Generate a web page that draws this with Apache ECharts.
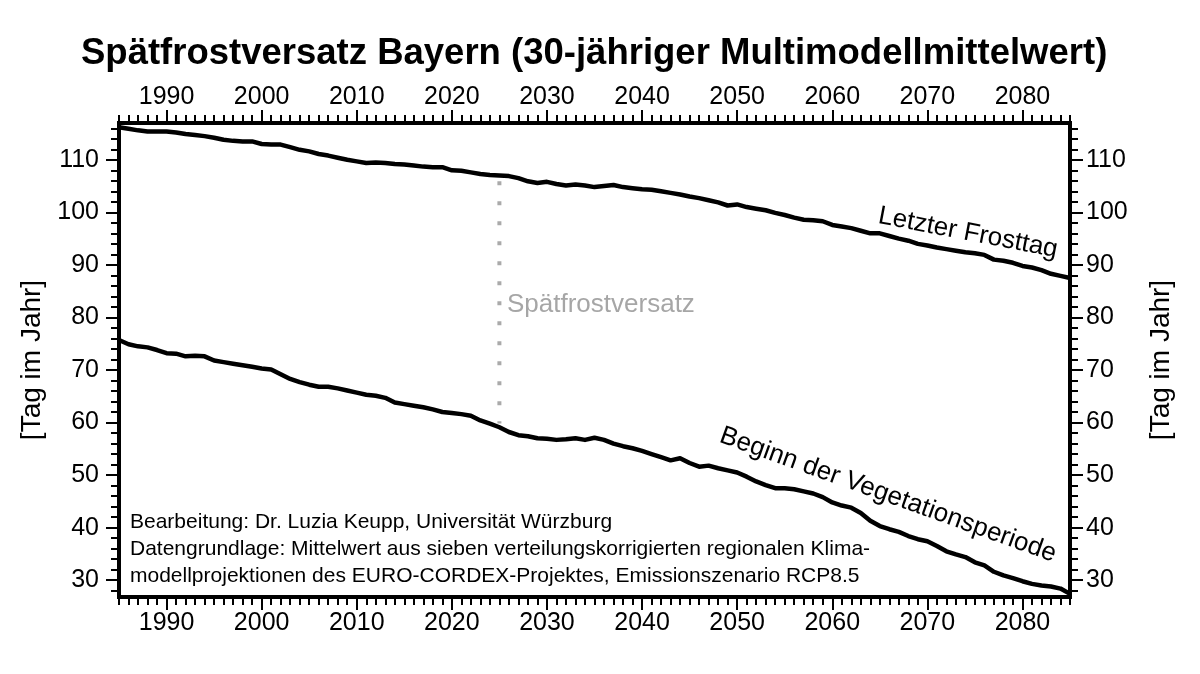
<!DOCTYPE html>
<html>
<head>
<meta charset="utf-8">
<script src="https://cdn.jsdelivr.net/npm/echarts@6/dist/echarts.min.js"></script>
<style>html,body{margin:0;padding:0;background:#fff}#c{width:1200px;height:674px}</style>
</head>
<body>
<div id="c"></div>
<script>
// ---- data ----
const years = [1985,1986,1987,1988,1989,1990,1991,1992,1993,1994,1995,1996,1997,1998,1999,
2000,2001,2002,2003,2004,2005,2006,2007,2008,2009,2010,2011,2012,2013,2014,2015,2016,2017,2018,2019,
2020,2021,2022,2023,2024,2025,2026,2027,2028,2029,2030,2031,2032,2033,2034,2035,2036,2037,2038,2039,
2040,2041,2042,2043,2044,2045,2046,2047,2048,2049,2050,2051,2052,2053,2054,2055,2056,2057,2058,2059,
2060,2061,2062,2063,2064,2065,2066,2067,2068,2069,2070,2071,2072,2073,2074,2075,2076,2077,2078,2079,
2080,2081,2082,2083,2084,2085];
const letzterFrosttag = [116.2,115.9,115.6,115.4,115.4,115.4,115.2,114.9,114.7,114.5,114.2,113.8,113.6,113.5,113.5,
113.0,112.9,112.9,112.4,111.9,111.6,111.1,110.8,110.4,110.0,109.7,109.4,109.5,109.4,109.2,109.1,108.9,108.7,108.6,108.6,
108.0,107.9,107.6,107.3,107.1,107.0,106.9,106.5,105.9,105.6,105.8,105.4,105.1,105.3,105.1,104.8,105.0,105.2,104.8,104.6,
104.4,104.3,104.0,103.7,103.4,103.0,102.7,102.3,101.9,101.3,101.5,101.0,100.7,100.4,99.9,99.5,99.0,98.6,98.5,98.3,
97.6,97.3,97.0,96.5,96.0,96.0,95.5,95.0,94.6,94.0,93.7,93.3,93.0,92.7,92.4,92.2,91.9,91.0,90.8,90.4,
89.8,89.5,89.0,88.3,87.9,87.5];
const beginnVegetation = [75.7,74.9,74.5,74.3,73.8,73.2,73.1,72.6,72.7,72.6,71.8,71.5,71.2,70.9,70.6,
70.3,70.1,69.2,68.3,67.7,67.2,66.8,66.8,66.5,66.1,65.7,65.3,65.1,64.7,63.8,63.5,63.2,62.9,62.5,62.0,
61.8,61.6,61.3,60.4,59.8,59.1,58.2,57.6,57.4,57.0,56.9,56.7,56.8,57.0,56.7,57.1,56.7,56.0,55.5,55.1,
54.6,54.0,53.4,52.8,53.2,52.3,51.6,51.8,51.3,50.9,50.5,49.7,48.8,48.1,47.5,47.5,47.3,46.9,46.5,45.8,
44.8,44.2,43.8,42.8,41.3,40.3,39.7,39.2,38.4,37.8,37.4,36.5,35.5,34.9,34.4,33.4,32.8,31.6,30.9,30.4,
29.8,29.3,29.0,28.8,28.4,27.4];
const versatzYear = 2025;
const versatzRange = [105.9, 59.8];
const xTickLabels = [1990,2000,2010,2020,2030,2040,2050,2060,2070,2080];
const yTickLabels = [30,40,50,60,70,80,90,100,110];
const xMin = 1985, xMax = 2085, yMin = 26.8, yMax = 117;

const title = 'Spätfrostversatz Bayern (30-jähriger Multimodellmittelwert)';
const yName = '[Tag im Jahr]';
const creditLines = [
  'Bearbeitung: Dr. Luzia Keupp, Universität Würzburg',
  'Datengrundlage: Mittelwert aus sieben verteilungskorrigierten regionalen Klima-',
  'modellprojektionen des EURO-CORDEX-Projektes, Emissionszenario RCP8.5'
];

// ---- build ----
const FONT = "'Liberation Sans', Arial, Helvetica, sans-serif";
const xMinor = []; for (let v = xMin; v <= xMax; v += 1) xMinor.push(v);
const yMinor = []; for (let v = 28; v <= 116; v += 2) yMinor.push(v);

const frameLine = {show: true, lineStyle: {color: '#000', width: 4, cap: 'square'}};
function xAx(pos, major) {
  return {
    type: 'value', position: pos, min: xMin, max: xMax,
    axisLine: major ? frameLine : {show: false},
    splitLine: {show: false},
    axisTick: {show: true, inside: false, length: major ? 13 : 8,
      customValues: major ? xTickLabels : xMinor,
      lineStyle: {color: '#000', width: 2}},
    axisLabel: {show: major, customValues: xTickLabels, formatter: v => String(v),
      color: '#000', fontSize: 25, fontFamily: FONT, margin: pos === 'top' ? 13 : 14}
  };
}
function yAx(pos, major) {
  return {
    type: 'value', position: pos, min: yMin, max: yMax,
    name: major ? yName : '', nameLocation: 'middle', nameGap: pos === 'left' ? 69 : 77,
    nameRotate: 90,
    nameTextStyle: {color: '#000', fontSize: 28, fontFamily: FONT},
    axisLine: major ? frameLine : {show: false},
    splitLine: {show: false},
    axisTick: {show: true, inside: false, length: major ? 13 : 8,
      customValues: major ? yTickLabels : yMinor,
      lineStyle: {color: '#000', width: 2}},
    axisLabel: {show: major, customValues: yTickLabels, formatter: v => String(v),
      color: '#000', fontSize: 25, fontFamily: FONT, margin: pos === 'left' ? 20 : 16}
  };
}

const chart = echarts.init(document.getElementById('c'), null, {renderer: 'canvas'});
const option = {
  backgroundColor: '#fff',
  animation: false,
  title: {text: title, left: 76, top: 30,
    textStyle: {fontSize: 36.5, fontWeight: 'bold', color: '#000', fontFamily: FONT}},
  grid: {left: 119, right: 130, top: 123, bottom: 77, outerBoundsMode: 'none'},
  xAxis: [xAx('bottom', true), xAx('top', true), xAx('bottom', false), xAx('top', false)],
  yAxis: [yAx('left', true), yAx('right', true), yAx('left', false), yAx('right', false)],
  series: [
    {type: 'line', name: 'Spätfrostversatz', xAxisIndex: 0, yAxisIndex: 0, symbol: 'none', z: 1,
      data: versatzRange.map(v => [versatzYear, v]),
      lineStyle: {color: '#aaaaaa', width: 4, type: [4, 16], cap: 'butt'}},
    {type: 'line', name: 'Letzter Frosttag', xAxisIndex: 0, yAxisIndex: 0, symbol: 'none', z: 3,
      data: years.map((y, i) => [y, letzterFrosttag[i]]),
      lineStyle: {color: '#000', width: 4.5, join: 'round'}},
    {type: 'line', name: 'Beginn der Vegetationsperiode', xAxisIndex: 0, yAxisIndex: 0, symbol: 'none', z: 3,
      data: years.map((y, i) => [y, beginnVegetation[i]]),
      lineStyle: {color: '#000', width: 4.5, join: 'round'}}
  ],
  graphic: [
    {type: 'text', x: 507, y: 305, style: {text: 'Spätfrostversatz', fill: '#a6a6a6',
      font: '26px ' + FONT, textAlign: 'left', textVerticalAlign: 'middle'}},
    {type: 'text', x: 968, y: 233, rotation: -0.19, style: {text: 'Letzter Frosttag', fill: '#000',
      font: '26px ' + FONT, textAlign: 'center', textVerticalAlign: 'middle'}},
    {type: 'text', x: 888, y: 495, rotation: -0.345, style: {text: 'Beginn der Vegetationsperiode', fill: '#000',
      font: '26px ' + FONT, textAlign: 'center', textVerticalAlign: 'middle'}},
    {type: 'text', x: 130, y: 522, style: {text: creditLines[0], fill: '#000',
      font: '21px ' + FONT, textAlign: 'left', textVerticalAlign: 'middle'}},
    {type: 'text', x: 130, y: 549, style: {text: creditLines[1], fill: '#000',
      font: '21px ' + FONT, textAlign: 'left', textVerticalAlign: 'middle'}},
    {type: 'text', x: 130, y: 576, style: {text: creditLines[2], fill: '#000',
      font: '21px ' + FONT, textAlign: 'left', textVerticalAlign: 'middle'}}
  ]
};
chart.setOption(option);
</script>
</body>
</html>
